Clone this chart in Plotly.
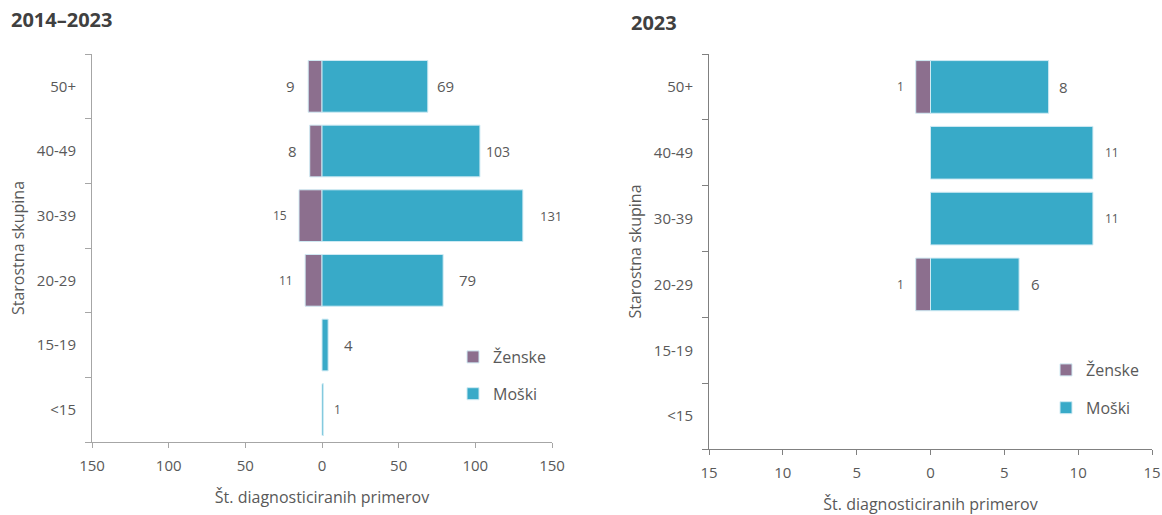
import plotly.graph_objects as go

# Age groups, bottom to top
age_groups = ["<15", "15-19", "20-29", "30-39", "40-49", "50+"]

# Diagnosed cases 2014–2023
women_total = [0, 0, 11, 15, 8, 9]
men_total = [1, 4, 79, 131, 103, 69]

# Diagnosed cases 2023
women_2023 = [0, 0, 1, 0, 0, 1]
men_2023 = [0, 0, 6, 11, 11, 8]

WOMEN_COLOR = "#8c6f8e"
MEN_COLOR = "#38aac8"
EDGE_COLOR = "#cfeaf3"
TEXT_COLOR = "#595959"
FONT = "Open Sans"

# Label styling per bar (font size, extra gap in px), bottom to top
women_lbl_size_left = [13, 13, 12, 12, 15, 15]
men_lbl_size_left = [12, 15, 15, 13, 14, 15]
women_gap_left = [0, 0, 4, 4, 5, 5]
men_gap_left = [4, 10, 10, 11, 0, 3]

women_lbl_size_right = [12, 12, 12, 12, 12, 12]
men_lbl_size_right = [12, 12, 15, 12, 12, 15]
women_gap_right = [0, 0, 4, 0, 0, 4]
men_gap_right = [0, 0, 6, 6, 6, 4]


def nz(values, sign=1):
    """Bar lengths with empty cells left undrawn."""
    return [sign * v if v else None for v in values]


fig = go.Figure()

panels = [
    dict(xa="x", ya="y", women=women_total, men=men_total,
         legend="legend", wsz=women_lbl_size_left, msz=men_lbl_size_left,
         wg=women_gap_left, mg=men_gap_left),
    dict(xa="x2", ya="y2", women=women_2023, men=men_2023,
         legend="legend2", wsz=women_lbl_size_right, msz=men_lbl_size_right,
         wg=women_gap_right, mg=men_gap_right),
]

annotations = []
for p in panels:
    fig.add_trace(go.Bar(
        y=age_groups, x=nz(p["women"], -1), orientation="h", name="Ženske",
        marker=dict(color=WOMEN_COLOR, line=dict(color=EDGE_COLOR, width=1)),
        width=0.8, xaxis=p["xa"], yaxis=p["ya"], legend=p["legend"],
        legendgroup="w", hoverinfo="skip",
    ))
    fig.add_trace(go.Bar(
        y=age_groups, x=nz(p["men"]), orientation="h", name="Moški",
        marker=dict(color=MEN_COLOR, line=dict(color=EDGE_COLOR, width=1)),
        width=0.8, xaxis=p["xa"], yaxis=p["ya"], legend=p["legend"],
        legendgroup="m", hoverinfo="skip",
    ))
    for i, g in enumerate(age_groups):
        w = p["women"][i]
        m = p["men"][i]
        if w:
            annotations.append(dict(
                x=-w, y=g, xref=p["xa"], yref=p["ya"], text=str(w),
                showarrow=False, xanchor="right", xshift=-(6 + p["wg"][i]),
                font=dict(size=p["wsz"][i], color=TEXT_COLOR, family=FONT),
            ))
        if m:
            annotations.append(dict(
                x=m, y=g, xref=p["xa"], yref=p["ya"], text=str(m),
                showarrow=False, xanchor="left", xshift=4 + p["mg"][i],
                font=dict(size=p["msz"][i], color=TEXT_COLOR, family=FONT),
            ))

# Panel titles
annotations += [
    dict(x=9 / 1162, y=1 - 20 / 515, xref="paper", yref="paper", text="<b>2014–2023</b>",
         showarrow=False, xanchor="left", yanchor="middle",
         font=dict(size=20, color="#404040", family=FONT)),
    dict(x=629 / 1162, y=1 - 22 / 515, xref="paper", yref="paper", text="<b>2023</b>",
         showarrow=False, xanchor="left", yanchor="middle",
         font=dict(size=20, color="#404040", family=FONT)),
]

left_axis_color = "#a6a6a6"
right_axis_color = "#808080"


def xaxis_cfg(domain, rng, tickvals, ticktext, color):
    return dict(
        domain=domain, range=rng, tickvals=tickvals, ticktext=ticktext,
        showline=True, linecolor=color, linewidth=1, showgrid=False, zeroline=False,
        ticks="outside", ticklen=5, tickcolor=color, automargin=False,
        ticklabelstandoff=5,
        tickfont=dict(size=15, color=TEXT_COLOR, family=FONT),
        title=dict(text="Št. diagnosticiranih primerov", standoff=17,
                   font=dict(size=16, color=TEXT_COLOR, family=FONT)),
        fixedrange=True,
    )


def yaxis_cfg(domain, anchor, color):
    return dict(
        domain=domain, anchor=anchor, type="category",
        categoryorder="array", categoryarray=age_groups,
        showline=True, linecolor=color, linewidth=1, showgrid=False,
        ticks="outside", ticklen=6, tickcolor=color, tickson="boundaries",
        ticklabelstandoff=12, automargin=False,
        tickfont=dict(size=15, color=TEXT_COLOR, family=FONT),
        title=dict(text="Starostna skupina", standoff=8,
                   font=dict(size=16, color=TEXT_COLOR, family=FONT)),
        fixedrange=True,
    )


fig.update_layout(
    width=1162, height=515,
    margin=dict(l=0, r=0, t=0, b=0, autoexpand=False),
    paper_bgcolor="white", plot_bgcolor="white",
    barmode="relative", bargap=0.2,
    font=dict(family=FONT, color=TEXT_COLOR),
    xaxis=dict(**xaxis_cfg([92 / 1162, 552 / 1162], [-150, 150],
                           [-150, -100, -50, 0, 50, 100, 150],
                           ["150", "100", "50", "0", "50", "100", "150"], left_axis_color),
               anchor="y"),
    yaxis=yaxis_cfg([1 - 442 / 515, 1 - 54 / 515], "x", left_axis_color),
    xaxis2=dict(**xaxis_cfg([709 / 1162, 1152 / 1162], [-15, 15],
                            [-15, -10, -5, 0, 5, 10, 15],
                            ["15", "10", "5", "0", "5", "10", "15"], right_axis_color),
                anchor="y2"),
    yaxis2=yaxis_cfg([1 - 449 / 515, 1 - 54 / 515], "x2", right_axis_color),
    legend=dict(x=453 / 1162, y=1 - 340 / 515, xanchor="left", yanchor="top",
                bgcolor="rgba(0,0,0,0)", traceorder="grouped", tracegroupgap=13,
                itemwidth=30, font=dict(size=16, color=TEXT_COLOR, family=FONT)),
    legend2=dict(x=1046 / 1162, y=1 - 353 / 515, xanchor="left", yanchor="top",
                 bgcolor="rgba(0,0,0,0)", traceorder="grouped", tracegroupgap=14,
                 itemwidth=30, font=dict(size=16, color=TEXT_COLOR, family=FONT)),
    annotations=annotations,
    showlegend=True,
)

fig.write_html("out.html")
